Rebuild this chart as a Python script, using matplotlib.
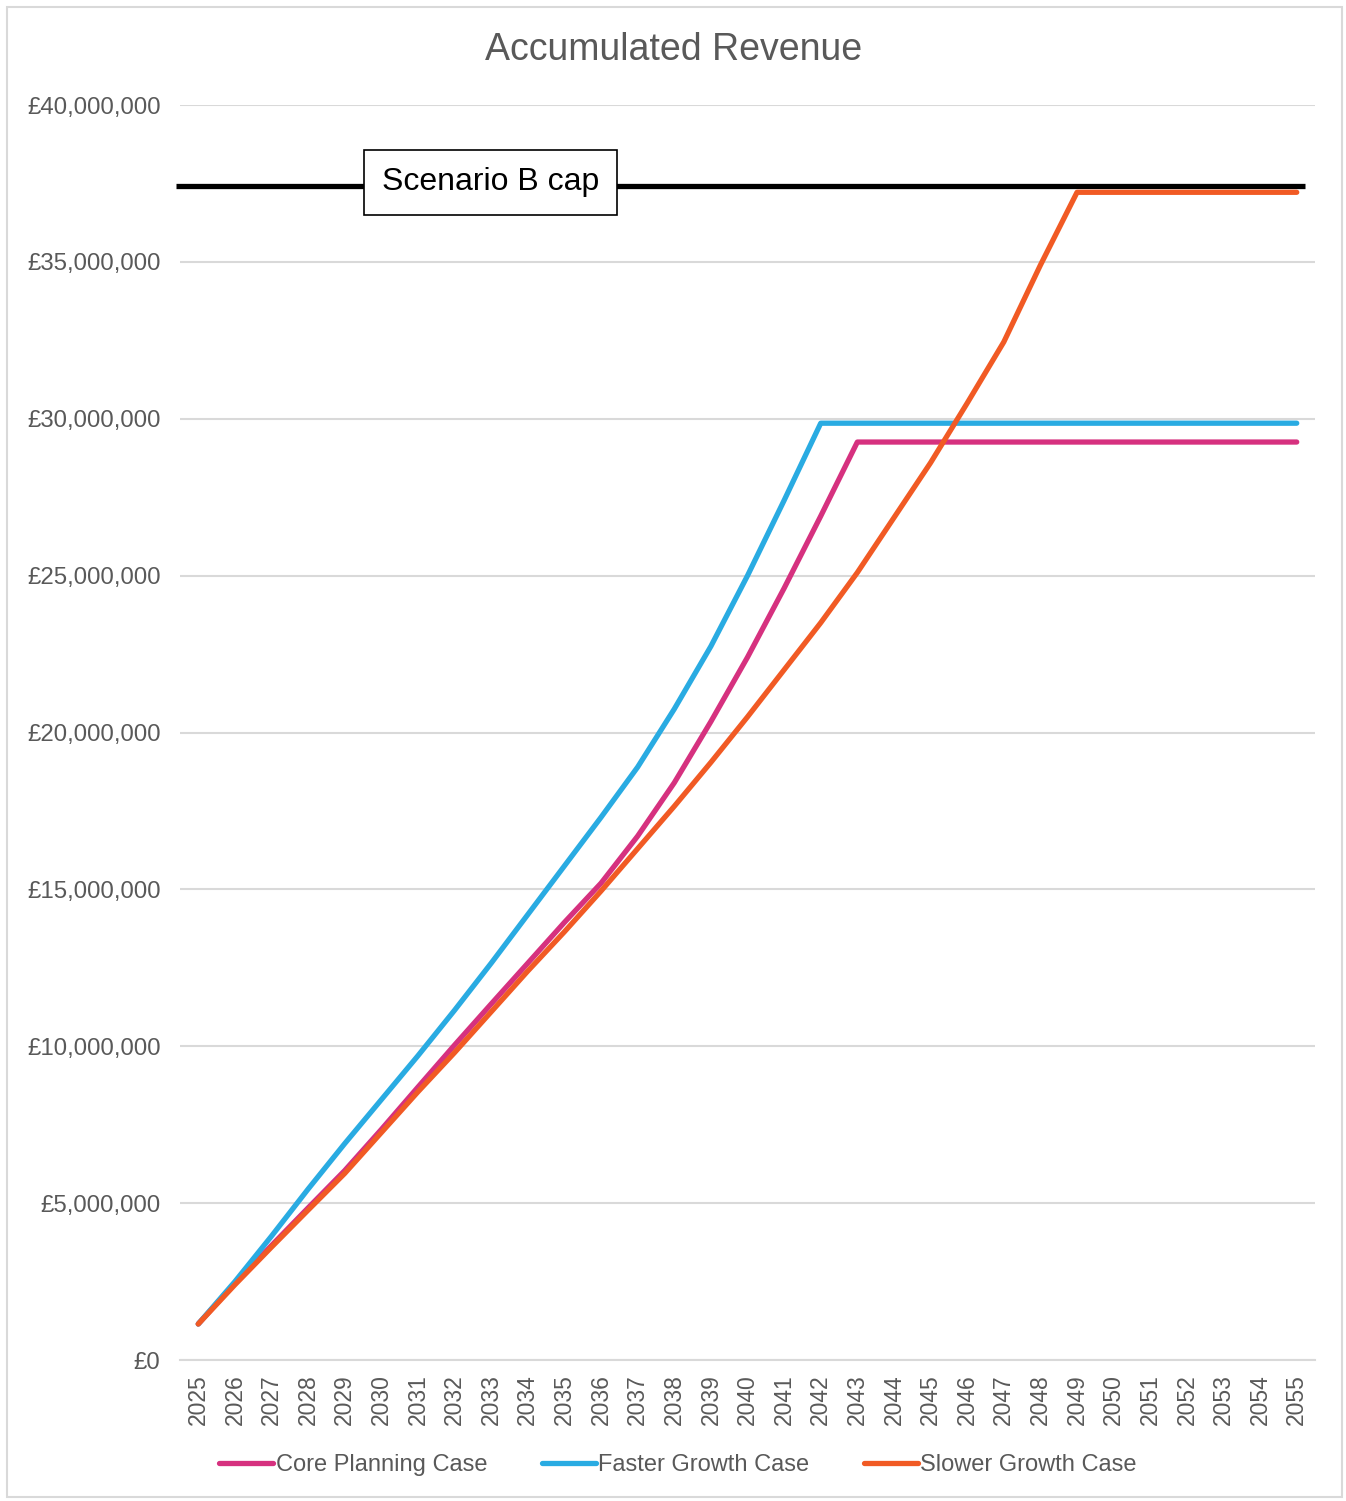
import matplotlib
matplotlib.use("Agg")
import matplotlib.pyplot as plt
from matplotlib.patches import Rectangle
from matplotlib.ticker import FuncFormatter

plt.rcParams["font.family"] = ["Liberation Sans", "DejaVu Sans"]

years = list(range(2025, 2056))

core_planning = [1.15, 2.45, 3.65, 4.85, 6.04, 7.35, 8.7, 10.04, 11.35, 12.65, 13.95, 15.2,
                 16.7, 18.4, 20.35, 22.4, 24.6, 26.9, 29.26] + [29.26] * 12
faster_growth = [1.15, 2.5, 3.95, 5.45, 6.9, 8.3, 9.7, 11.15, 12.65, 14.2, 15.75, 17.3,
                 18.9, 20.75, 22.75, 25.0, 27.4, 29.86] + [29.86] * 13
slower_growth = [1.15, 2.4, 3.6, 4.78, 5.95, 7.25, 8.55, 9.8, 11.1, 12.4, 13.65, 14.95,
                 16.3, 17.65, 19.05, 20.5, 22.0, 23.5, 25.1, 26.85, 28.6, 30.5, 32.45,
                 34.9, 37.22] + [37.22] * 6
scenario_b_cap = 37.42  # £m

series = [
    ("Core Planning Case", core_planning, "#D6317F"),
    ("Faster Growth Case", faster_growth, "#29ABE2"),
    ("Slower Growth Case", slower_growth, "#F15A24"),
]

grey = "#595959"
fig = plt.figure(figsize=(13.46, 15.01), dpi=100)
ax = fig.add_axes([0.1337, 0.0939, 0.977 - 0.1337, 0.930 - 0.0939])

# chart border
fig.patches.append(Rectangle((7 / 1346, 4 / 1501), 1335 / 1346, 1490 / 1501,
                             transform=fig.transFigure, fill=False,
                             edgecolor="#D9D9D9", lw=1.5))

x = list(range(len(years)))
for name, vals, color in series:
    ax.plot(x, [v * 1e6 for v in vals], color=color, lw=3.8, label=name,
            solid_capstyle="round", solid_joinstyle="round", zorder=3)

# cap line + label box
ax.plot([-0.6, 30.22], [scenario_b_cap * 1e6] * 2, color="black", lw=3.8,
        solid_capstyle="butt", clip_on=False, zorder=2)
ax.text(7.98, scenario_b_cap * 1e6 + 0.12e6, "Scenario B cap", fontsize=23,
        ha="center", va="center", color="black", zorder=5,
        bbox=dict(boxstyle="square,pad=0.55", facecolor="white", edgecolor="black", lw=1.2))

ax.set_xlim(-0.5, 30.5)
ax.set_ylim(0, 40e6)
ax.set_yticks([i * 5e6 for i in range(9)])
ax.yaxis.set_major_formatter(FuncFormatter(lambda v, p: f"£{v:,.0f}"))
ax.set_xticks(x)
ax.set_xticklabels([str(y) for y in years], rotation=90)
ax.tick_params(axis="y", length=0, pad=14, labelsize=17.3, labelcolor=grey)
ax.tick_params(axis="x", length=0, pad=10, labelsize=16.5, labelcolor=grey)
ax.grid(axis="y", color="#D9D9D9", lw=1.5, zorder=0)
ax.set_axisbelow(True)
for side in ["top", "right", "left"]:
    ax.spines[side].set_visible(False)
ax.spines["bottom"].set_color("#D9D9D9")
ax.spines["bottom"].set_linewidth(1.5)

fig.text(674 / 1346, 1 - 50 / 1501, "Accumulated Revenue", fontsize=27,
         color=grey, ha="center", va="center")

leg = fig.legend(loc="center", bbox_to_anchor=(678 / 1346, 1 - 1465 / 1501), ncol=3,
                 frameon=False, fontsize=17, handlelength=2.3, handletextpad=0.1,
                 columnspacing=2.3)
for t in leg.get_texts():
    t.set_color(grey)

fig.savefig("out.png", dpi=100)
